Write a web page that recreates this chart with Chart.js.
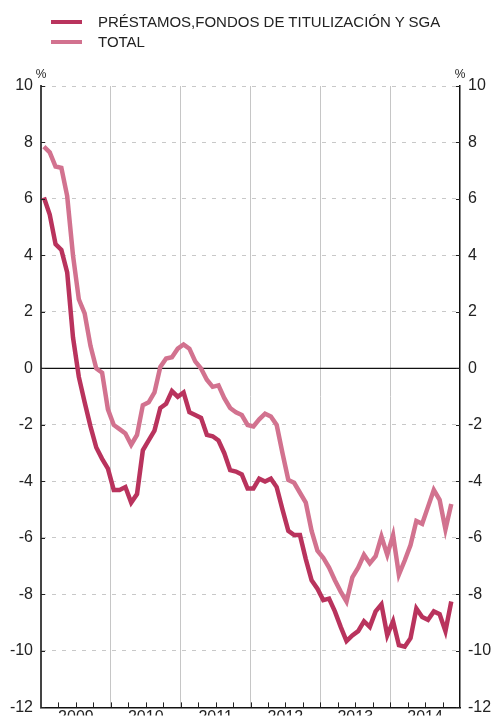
<!DOCTYPE html>
<html>
<head>
<meta charset="utf-8">
<script src="https://cdn.jsdelivr.net/npm/chart.js@4/dist/chart.umd.min.js"></script>
<style>
  body { margin:0; background:#fff; }
  #wrap { position:relative; width:495px; height:725px; overflow:hidden; }
  #chart { display:block; }
  #legend { position:absolute; left:0; top:0; font-family:"Liberation Sans", Arial, Helvetica, sans-serif; font-size:15px; color:#222; }
  .item { position:absolute; left:51px; white-space:nowrap; height:20px; line-height:20px; }
  .swatch { position:absolute; left:0; top:8px; width:31px; height:4px; }
  .txt { position:absolute; left:47px; top:0; }
</style>
</head>
<body>
<div id="wrap">
  <canvas id="chart" width="495" height="725"></canvas>
  <div id="legend"></div>
</div>
<script>
// monthly year-on-year rates, Jan 2009 .. Nov 2014
var years = ["2009","2010","2011","2012","2013","2014"];
var seriesNames = ["PRÉSTAMOS,FONDOS DE TITULIZACIÓN Y SGA","TOTAL"];
var seriesColors = ["#b9335d","#d2728f"];

var prestamos = [6.05,5.45,4.4,4.2,3.4,1.1,-0.3,-1.2,-2.05,-2.8,-3.2,-3.55,
                 -4.3,-4.3,-4.2,-4.75,-4.45,-2.9,-2.55,-2.2,-1.4,-1.25,-0.8,-1.0,
                 -0.85,-1.55,-1.65,-1.75,-2.35,-2.4,-2.55,-3.0,-3.6,-3.65,-3.75,-4.25,
                 -4.25,-3.9,-4.0,-3.9,-4.2,-5.0,-5.75,-5.9,-5.9,-6.75,-7.5,-7.8,
                 -8.2,-8.15,-8.6,-9.15,-9.65,-9.45,-9.3,-8.95,-9.15,-8.6,-8.35,-9.45,
                 -8.95,-9.8,-9.85,-9.55,-8.5,-8.8,-8.9,-8.6,-8.7,-9.3,-8.25];

var total = [7.85,7.65,7.15,7.1,6.1,4.0,2.45,1.95,0.8,0.0,-0.15,-1.45,
             -2.0,-2.15,-2.3,-2.7,-2.35,-1.3,-1.2,-0.85,0.05,0.35,0.4,0.7,
             0.85,0.7,0.25,0.0,-0.4,-0.65,-0.6,-1.05,-1.4,-1.55,-1.65,-2.0,
             -2.05,-1.8,-1.6,-1.7,-2.0,-3.0,-3.95,-4.05,-4.4,-4.75,-5.75,-6.45,
             -6.7,-7.05,-7.5,-7.9,-8.25,-7.4,-7.05,-6.6,-6.9,-6.65,-5.95,-6.6,
             -5.9,-7.3,-6.8,-6.25,-5.4,-5.5,-4.9,-4.3,-4.65,-5.7,-4.8];

var yMin = -12, yMax = 10, yStep = 2;
var fontFamily = '"Liberation Sans", Arial, Helvetica, sans-serif';

// month i sits in the middle of its slot
function toPoints(values){
  var pts = [];
  for(var i=0;i<values.length;i++){
    pts.push({x: i+0.5, y: values[i]});
  }
  return pts;
}

function buildLegend(){
  var box = document.getElementById("legend");
  for(var i=0;i<seriesNames.length;i++){
    var item = document.createElement("div");
    item.className = "item";
    item.style.top = (12 + i*20) + "px";
    var sw = document.createElement("div");
    sw.className = "swatch";
    sw.style.background = seriesColors[i];
    var tx = document.createElement("div");
    tx.className = "txt";
    tx.textContent = seriesNames[i];
    item.appendChild(sw);
    item.appendChild(tx);
    box.appendChild(item);
  }
}

// zero line, inner tick marks and the % units
var extras = {
  id: "extras",
  beforeDatasetsDraw: function(chart){
    var ctx = chart.ctx, a = chart.chartArea;
    var y0 = chart.scales.y.getPixelForValue(0);
    ctx.save();
    ctx.strokeStyle = "#111";
    ctx.lineWidth = 1.2;
    ctx.beginPath();
    ctx.moveTo(a.left, y0);
    ctx.lineTo(a.right, y0);
    ctx.stroke();
    ctx.restore();
  },
  afterDraw: function(chart){
    var ctx = chart.ctx, a = chart.chartArea;
    var xs = chart.scales.x, ys = chart.scales.y;
    ctx.save();
    ctx.strokeStyle = "#222";
    ctx.lineWidth = 1;
    ctx.beginPath();
    for(var m=3;m<72;m+=3){
      var px = Math.round(xs.getPixelForValue(m)) + 0.5;
      ctx.moveTo(px, a.bottom);
      ctx.lineTo(px, a.bottom - 5);
    }
    for(var v=yMin;v<=yMax;v+=yStep){
      var py = Math.round(ys.getPixelForValue(v)) + 0.5;
      ctx.moveTo(a.left, py);
      ctx.lineTo(a.left + 4, py);
      ctx.moveTo(a.right, py);
      ctx.lineTo(a.right - 4, py);
    }
    ctx.stroke();
    ctx.fillStyle = "#222";
    ctx.font = "12px " + fontFamily;
    ctx.textAlign = "center";
    ctx.textBaseline = "middle";
    ctx.fillText("%", a.left, a.top - 11);
    ctx.fillText("%", a.right, a.top - 11);
    ctx.restore();
  }
};

function showChart(){
  var ctx = document.getElementById("chart");
  var data1 = {
    datasets: [{
      label: seriesNames[0],
      data: toPoints(prestamos),
      borderColor: seriesColors[0],
      borderWidth: 4.5,
      pointRadius: 0,
      tension: 0,
      yAxisID: "y"
    },{
      label: seriesNames[1],
      data: toPoints(total),
      borderColor: seriesColors[1],
      borderWidth: 4.5,
      pointRadius: 0,
      tension: 0,
      yAxisID: "y"
    }]
  };
  var tickFont = {family: fontFamily, size: 16};
  var options = {
    responsive: false,
    animation: false,
    layout: {autoPadding: false, padding: {top: 86, left: 0, right: 0, bottom: 0}},
    plugins: {legend: {display: false}, tooltip: {enabled: false}},
    scales: {
      x: {
        type: "linear",
        min: 0,
        max: 72,
        afterFit: function(s){ s.height = 8; },
        afterBuildTicks: function(s){
          var t = [];
          for(var m=0;m<=72;m+=6) t.push({value: m});
          s.ticks = t;
        },
        ticks: {
          autoSkip: false,
          maxRotation: 0,
          padding: 1,
          color: "#222",
          font: tickFont,
          callback: function(v){
            if(v % 12 == 6) return years[(v-6)/12];
            return "";
          }
        },
        grid: {
          drawTicks: false,
          lineWidth: 1,
          color: function(c){
            var v = c.tick ? c.tick.value : 0;
            if(v > 0 && v < 72 && v % 12 == 0) return "#c6c6c6";
            return "rgba(0,0,0,0)";
          }
        },
        border: {color: "#111", width: 1.5}
      },
      y: {
        position: "left",
        min: yMin,
        max: yMax,
        afterFit: function(s){ s.width = 41; },
        ticks: {stepSize: yStep, padding: 8, color: "#222", font: tickFont},
        grid: {
          drawTicks: false,
          lineWidth: 1,
          color: function(c){
            var v = c.tick ? c.tick.value : 0;
            if(v == 0 || v == yMin) return "rgba(0,0,0,0)";
            return "#c8c8c8";
          }
        },
        border: {color: "#444", width: 2, dash: [4,6]}
      },
      y2: {
        position: "right",
        min: yMin,
        max: yMax,
        afterFit: function(s){ s.width = 35; },
        ticks: {stepSize: yStep, padding: 8, color: "#222", font: tickFont},
        grid: {display: false, drawTicks: false},
        border: {color: "#111", width: 1.5}
      }
    }
  };
  var chart = new Chart(ctx, {
    type: "line",
    data: data1,
    options: options,
    plugins: [extras]
  });
}

buildLegend();
showChart();
</script>
</body>
</html>
